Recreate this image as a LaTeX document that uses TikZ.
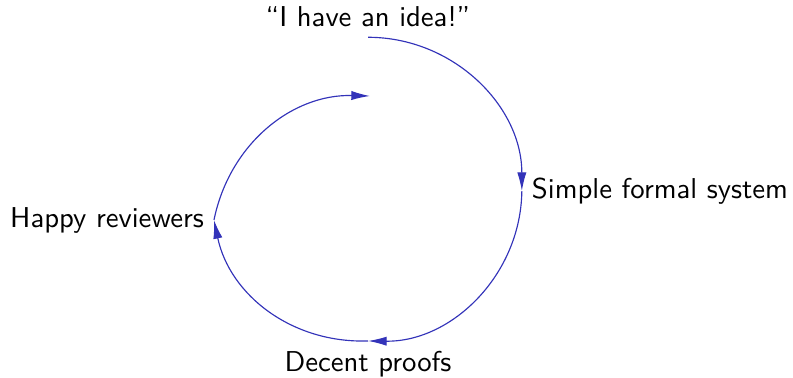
\documentclass[tikz,border=0pt]{standalone}
\usepackage{tikz}
\usetikzlibrary{arrows.meta}
\definecolor{cycleblue}{RGB}{51,51,185}

\begin{document}
\begin{tikzpicture}[
  x=0.01224cm, y=-0.01224cm,
  every node/.style={font=\sffamily},
  cyc/.style={draw=cycleblue, thin, -{Latex[length=6.5pt,width=3.2pt]}, bend left=45}
]
\useasboundingbox (0,0) rectangle (793,377);
\node (idea) at (368,17) {``I have an idea!''};
\node (simple) at (660,191) {Simple formal system};
\node (proofs) at (368,364) {Decent proofs};
\node (happy) at (107,220) {Happy reviewers};
\coordinate (back) at (370,96);
\draw[cyc] (idea.south) to (simple.west);
\draw[cyc] (simple.west) to (proofs.north);
\draw[cyc, bend left=40] (proofs.north) to (happy.east);
\draw[cyc, bend left=40] (happy.east) to (back);
\end{tikzpicture}
\end{document}
